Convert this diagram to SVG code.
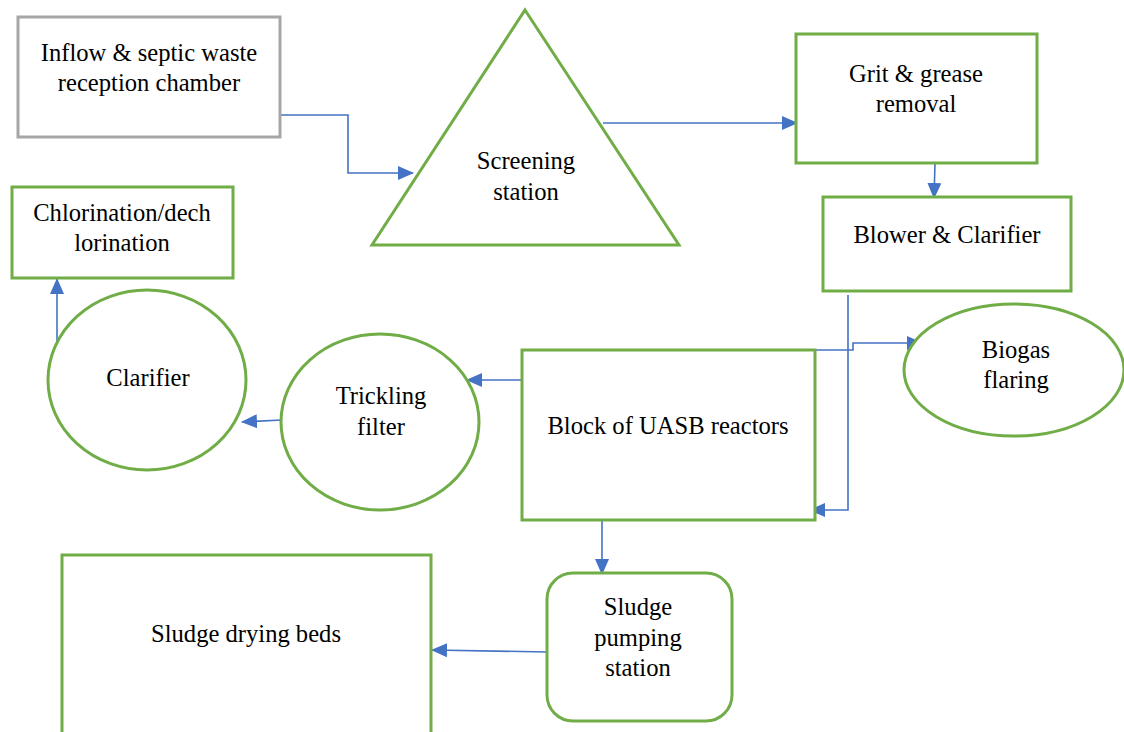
<svg xmlns="http://www.w3.org/2000/svg" width="1124" height="732" viewBox="0 0 1124 732">
<style>
.n{fill:#fff;stroke:#70ad47;stroke-width:3}
.g{fill:#fff;stroke:#a6a6a6;stroke-width:3}
.t{font-family:"Liberation Serif","Times New Roman",serif;font-size:24.6px;fill:#000;text-anchor:middle}
.c{fill:none;stroke:#4472c4;stroke-width:1.6}
</style>
<defs>
<marker id="a" markerUnits="userSpaceOnUse" markerWidth="16" markerHeight="14" refX="15" refY="7" orient="auto">
<path d="M0,0 L16,7 L0,14 Z" fill="#4472c4"/>
</marker>
</defs>
<rect width="1124" height="732" fill="#fff"/>
<g id="connectors">
<path class="c" d="M280,115 H348 V173 H413" marker-end="url(#a)"/>
<path class="c" d="M603,123 H797" marker-end="url(#a)"/>
<path class="c" d="M935,163 L934,198" marker-end="url(#a)"/>
<path class="c" d="M848,295 V510 H810" marker-end="url(#a)"/>
<path class="c" d="M782,350 H853 V343 H922" marker-end="url(#a)"/>
<path class="c" d="M526,380 H467" marker-end="url(#a)"/>
<path class="c" d="M282,420 L242,422" marker-end="url(#a)"/>
<path class="c" d="M57,350 V279" marker-end="url(#a)"/>
<path class="c" d="M602,520 V574" marker-end="url(#a)"/>
<path class="c" d="M547,652 L432,650" marker-end="url(#a)"/>
</g>
<g id="inflow">
<rect class="g" x="18" y="17" width="262" height="120"/>
<text class="t" x="149" y="61">Inflow &amp; septic waste</text>
<text class="t" x="149" y="91">reception chamber</text>
</g>
<g id="screening">
<polygon class="n" points="525,10 679,245 372,245"/>
<text class="t" x="526" y="169">Screening</text>
<text class="t" x="526" y="200">station</text>
</g>
<g id="grit">
<rect class="n" x="796" y="34" width="241" height="129"/>
<text class="t" x="916" y="82">Grit &amp; grease</text>
<text class="t" x="916" y="112">removal</text>
</g>
<g id="blower">
<rect class="n" x="823" y="197" width="248" height="94"/>
<text class="t" x="947" y="243">Blower &amp; Clarifier</text>
</g>
<g id="biogas">
<ellipse class="n" cx="1014" cy="370" rx="110" ry="66"/>
<text class="t" x="1016" y="358">Biogas</text>
<text class="t" x="1016" y="388">flaring</text>
</g>
<g id="uasb">
<rect class="n" x="522" y="350" width="293" height="170"/>
<text class="t" x="668" y="434">Block of UASB reactors</text>
</g>
<g id="trickling">
<ellipse class="n" cx="380" cy="422" rx="99" ry="88"/>
<text class="t" x="381" y="404">Trickling</text>
<text class="t" x="381" y="435">filter</text>
</g>
<g id="clarifier">
<ellipse class="n" cx="147" cy="380" rx="99" ry="90"/>
<text class="t" x="148" y="386">Clarifier</text>
</g>
<g id="chlorination">
<rect class="n" x="12" y="187" width="221" height="91"/>
<text class="t" x="122" y="221">Chlorination/dech</text>
<text class="t" x="122" y="251">lorination</text>
</g>
<g id="pumping">
<rect class="n" x="547" y="573" width="185" height="148" rx="26" ry="26"/>
<text class="t" x="638" y="615">Sludge</text>
<text class="t" x="638" y="646">pumping</text>
<text class="t" x="638" y="676">station</text>
</g>
<g id="drying">
<rect class="n" x="62" y="555" width="369" height="190"/>
<text class="t" x="246" y="642">Sludge drying beds</text>
</g>
</svg>
